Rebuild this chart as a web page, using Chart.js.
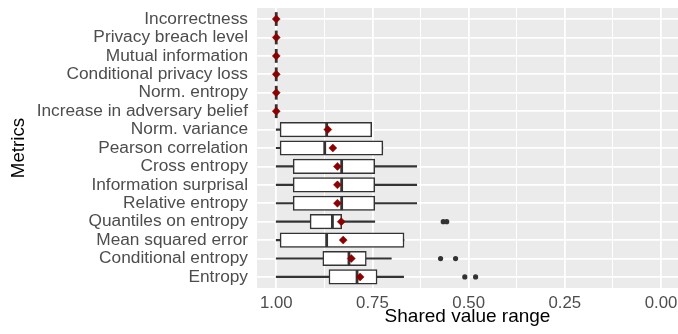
<!DOCTYPE html>
<html>
<head>
<meta charset="utf-8">
<script src="https://cdn.jsdelivr.net/npm/chart.js@4.4.0/dist/chart.umd.min.js"></script>
<style>
  html, body { margin: 0; padding: 0; background: #fff; overflow: hidden; }
  #wrap { width: 678px; height: 334px; }
</style>
</head>
<body>
<div id="wrap"><canvas id="chart"></canvas></div>
<script>
'use strict';
var metrics = ['Incorrectness', 'Privacy breach level', 'Mutual information',
  'Conditional privacy loss', 'Norm. entropy', 'Increase in adversary belief',
  'Norm. variance', 'Pearson correlation', 'Cross entropy', 'Information surprisal',
  'Relative entropy', 'Quantiles on entropy', 'Mean squared error',
  'Conditional entropy', 'Entropy'];

// boxplot stats per metric (same order as metrics)
var whiskerLow = [1, 1, 1, 1, 1, 1, 0.752, 0.723, 0.635, 0.635, 0.635, 0.744, 0.668, 0.701, 0.669];
var q1 = [1, 1, 1, 1, 1, 1, 0.752, 0.723, 0.744, 0.744, 0.744, 0.830, 0.668, 0.766, 0.738];
var median = [1, 1, 1, 1, 1, 1, 0.869, 0.874, 0.830, 0.830, 0.830, 0.854, 0.869, 0.811, 0.790];
var q3 = [1, 1, 1, 1, 1, 1, 0.990, 0.990, 0.956, 0.956, 0.956, 0.912, 0.990, 0.879, 0.863];
var whiskerHigh = [1, 1, 1, 1, 1, 1, 1, 1, 1, 1, 1, 1, 1, 1, 1];
var mean = [1, 1, 1, 1, 1, 1, 0.866, 0.853, 0.841, 0.841, 0.841, 0.831, 0.826, 0.805, 0.782];

var outlierRow = [11, 11, 13, 13, 14, 14];
var outlierValue = [0.566, 0.557, 0.573, 0.534, 0.510, 0.482];

var xTicks = [0, 0.125, 0.25, 0.375, 0.5, 0.625, 0.75, 0.875, 1];

function isMajor(v) {
  return Math.abs(v * 4 - Math.round(v * 4)) < 1e-9;
}

var whiskerData = [], boxData = [], medianData = [], meanData = [], outlierData = [];
for (var i = 0; i < metrics.length; i++) {
  whiskerData.push({ x: [whiskerLow[i], whiskerHigh[i]], y: i });
  boxData.push({ x: [q1[i], q3[i]], y: i });
  medianData.push({ x: median[i], y: i });
  meanData.push({ x: mean[i], y: i });
}
for (var j = 0; j < outlierRow.length; j++) {
  outlierData.push({ x: outlierValue[j], y: outlierRow[j] });
}

var panelBg = {
  id: 'panelBg',
  beforeDraw: function (chart) {
    var a = chart.chartArea;
    var ctx = chart.ctx;
    ctx.save();
    ctx.fillStyle = '#EBEBEB';
    ctx.fillRect(a.left, a.top, a.right - a.left, a.bottom - a.top);
    ctx.restore();
  }
};

Chart.defaults.font.family = '"Liberation Sans", Arial, sans-serif';

var ctx = document.getElementById('chart').getContext('2d');
var boxChart = new Chart(ctx, {
  type: 'bar',
  data: {
    datasets: [{
      type: 'scatter',
      data: outlierData,
      order: 0,
      pointStyle: 'circle',
      pointRadius: 2.6,
      pointBackgroundColor: '#333333',
      pointBorderWidth: 0
    }, {
      type: 'scatter',
      data: meanData,
      order: 1,
      pointStyle: 'rectRot',
      pointRadius: 4,
      pointBackgroundColor: '#8B0000',
      pointBorderColor: '#8B0000',
      pointBorderWidth: 0.5
    }, {
      type: 'scatter',
      data: medianData,
      order: 2,
      pointStyle: 'line',
      pointRotation: 90,
      pointRadius: 6.9,
      pointBorderColor: '#333333',
      pointBorderWidth: 2.8
    }, {
      type: 'bar',
      data: boxData,
      order: 3,
      grouped: false,
      barThickness: 14.5,
      backgroundColor: '#FFFFFF',
      borderColor: '#333333',
      borderWidth: 1.5,
      borderSkipped: false
    }, {
      type: 'bar',
      data: whiskerData,
      order: 4,
      grouped: false,
      barThickness: 1.5,
      backgroundColor: '#333333',
      borderWidth: 0
    }]
  },
  options: {
    indexAxis: 'y',
    responsive: true,
    maintainAspectRatio: false,
    animation: false,
    layout: { autoPadding: false, padding: { top: 8, left: 0, right: 0, bottom: 0 } },
    plugins: {
      legend: { display: false },
      tooltip: { enabled: false }
    },
    scales: {
      x: {
        type: 'linear',
        reverse: true,
        min: -0.044,
        max: 1.05,
        border: { display: false },
        grid: {
          color: '#FFFFFF',
          lineWidth: function (c) { return isMajor(c.tick.value) ? 1.8 : 1.0; },
          drawTicks: false
        },
        afterBuildTicks: function (scale) {
          scale.ticks = xTicks.map(function (v) { return { value: v }; });
        },
        afterFit: function (scale) {
          scale.height = 46;
          scale.paddingLeft = 0;
          scale.paddingRight = 0;
        },
        ticks: {
          autoSkip: false,
          maxRotation: 0,
          padding: 5,
          color: '#4D4D4D',
          font: { size: 16.8 },
          callback: function (v) { return isMajor(v) ? v.toFixed(2) : ''; }
        },
        title: {
          display: true,
          text: 'Shared value range',
          color: '#000000',
          font: { size: 19 },
          padding: { top: 0, bottom: 6 }
        }
      },
      y: {
        type: 'linear',
        reverse: true,
        offset: false,
        min: -0.6,
        max: 14.6,
        border: { display: false },
        grid: {
          offset: false,
          color: '#FFFFFF',
          lineWidth: 1.8,
          drawTicks: false
        },
        afterBuildTicks: function (scale) {
          scale.ticks = metrics.map(function (m, k) { return { value: k }; });
        },
        afterFit: function (scale) {
          scale.width = 257;
          scale.paddingTop = 0;
          scale.paddingBottom = 0;
        },
        ticks: {
          autoSkip: false,
          padding: 9,
          color: '#4D4D4D',
          font: { size: 17.3 },
          callback: function (v) { return metrics[v]; }
        },
        title: {
          display: true,
          text: 'Metrics',
          color: '#000000',
          font: { size: 18.8 },
          padding: { top: 7.3, bottom: 0 }
        }
      }
    }
  },
  plugins: [panelBg]
});
</script>
</body>
</html>
